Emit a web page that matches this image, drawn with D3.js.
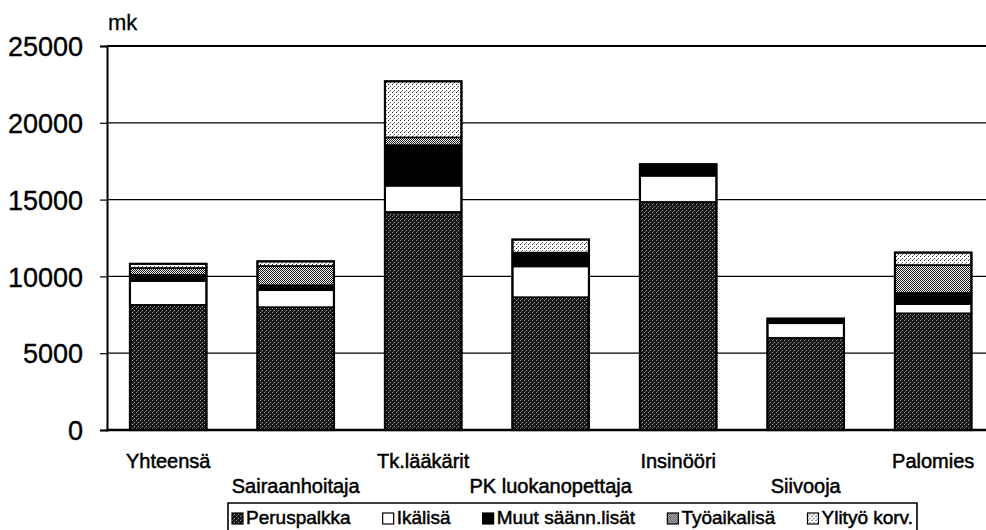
<!DOCTYPE html>
<html><head><meta charset="utf-8">
<script src="https://cdn.jsdelivr.net/npm/d3@7"></script>
<style>
html,body{margin:0;padding:0;background:#fff;}
svg{display:block;font-family:"Liberation Sans",Arial,sans-serif;}
</style></head>
<body>
<svg id="chart" width="986" height="530"></svg>
<script>
const categories = ["Yhteensä","Sairaanhoitaja","Tk.lääkärit","PK luokanopettaja","Insinööri","Siivooja","Palomies"];
const seriesNames = ["Peruspalkka","Ikälisä","Muut säänn.lisät","Työaikalisä","Ylityö korv."];
const peruspalkka = [8150, 8000, 14200, 8650, 14850, 6000, 7600];
const ikalisa     = [1550, 1100, 1700, 2000, 1700, 950, 600];
const muutLisat   = [400, 330, 2650, 800, 750, 300, 720];
const tyoaikalisa = [450, 1250, 500, 100, 0, 0, 1820];
const ylityoKorv  = [270, 300, 3650, 850, 0, 0, 810];
const yTicks = [0, 5000, 10000, 15000, 20000, 25000];
const yUnit = "mk";

const svg = d3.select("#chart");
const W = 986, H = 530;
const plotLeft = 107, plotTop = 46, plotBottom = 430;

// patterns
const defs = svg.append("defs");
function pat(id, size, bg, dots){
  const p = defs.append("pattern").attr("id", id).attr("patternUnits","userSpaceOnUse")
    .attr("width", size).attr("height", size);
  p.append("rect").attr("width", size).attr("height", size).attr("fill", bg);
  dots.forEach(([px,py,c]) => p.append("rect").attr("x",px).attr("y",py).attr("width",1).attr("height",1).attr("fill",c));
}
pat("pPerus", 4, "#161616", [[0,0,"#a0a0a0"],[2,2,"#a0a0a0"],[1,3,"#555"]]);
pat("pTyo", 2, "#ffffff", [[0,0,"#111"],[1,1,"#111"]]);
pat("pYli", 4, "#ffffff", [[0,0,"#222"],[2,2,"#555"],[1,3,"#999"]]);
const fills = ["url(#pPerus)", "#ffffff", "#000000", "url(#pTyo)", "url(#pYli)"];

const rows = categories.map((c,i) => ({
  cat: c,
  [seriesNames[0]]: peruspalkka[i],
  [seriesNames[1]]: ikalisa[i],
  [seriesNames[2]]: muutLisat[i],
  [seriesNames[3]]: tyoaikalisa[i],
  [seriesNames[4]]: ylityoKorv[i]
}));
const stacked = d3.stack().keys(seriesNames)(rows);

const y = d3.scaleLinear().domain([0, 25000]).range([plotBottom, plotTop]);
const step = 127.5;
const x = d3.scaleBand().domain(categories)
  .range([plotLeft, plotLeft + step * 6.96]).paddingInner(0.4).paddingOuter(0.18);

// gridlines
svg.append("g").selectAll("line").data(yTicks.filter(t => t > 0)).join("line")
  .attr("x1", plotLeft).attr("x2", W).attr("y1", d => y(d)).attr("y2", d => y(d))
  .attr("stroke", "#000").attr("stroke-width", d => d === 25000 ? 2 : 1.2);

// y axis
const yAxis = d3.axisLeft(y).tickValues(yTicks).tickSize(7).tickFormat(d3.format("d"));
const ga = svg.append("g").attr("transform", `translate(${plotLeft},0)`).call(yAxis);
ga.select(".domain").attr("stroke", "#000").attr("stroke-width", 2);
ga.selectAll(".tick line").attr("stroke", "#000").attr("stroke-width", 1.2);
ga.selectAll(".tick text").attr("x", -24).attr("dy", "0.36em")
  .attr("font-size", 27).attr("fill", "#000").attr("stroke", "#000").attr("stroke-width", 0.35)
  .attr("font-family", "Liberation Sans, Arial, sans-serif");

svg.append("text").attr("x", plotLeft + 1).attr("y", 30).attr("font-size", 22)
  .attr("stroke", "#000").attr("stroke-width", 0.3).text(yUnit);

// bars
const layer = svg.append("g").selectAll("g").data(stacked).join("g")
  .attr("fill", (d,i) => fills[i]);
layer.selectAll("rect").data(d => d.map((v,i) => ({v, cat: categories[i]})).filter(o => o.v[1] > o.v[0]))
  .join("rect")
  .attr("x", o => x(o.cat)).attr("width", x.bandwidth())
  .attr("y", o => y(o.v[1])).attr("height", o => y(o.v[0]) - y(o.v[1]))
  .attr("stroke", "#000").attr("stroke-width", 1.6);

// bar outlines
svg.append("g").selectAll("rect").data(categories).join("rect")
  .attr("x", c => x(c)).attr("width", x.bandwidth())
  .attr("y", (c,i) => y(stacked[stacked.length-1][i][1]))
  .attr("height", (c,i) => plotBottom - y(stacked[stacked.length-1][i][1]))
  .attr("fill", "none").attr("stroke", "#000").attr("stroke-width", 2.2);

// baseline
svg.append("line").attr("x1", plotLeft - 1).attr("x2", W).attr("y1", plotBottom).attr("y2", plotBottom)
  .attr("stroke", "#000").attr("stroke-width", 2.5);

// x labels (staggered)
svg.append("g").selectAll("text").data(categories).join("text")
  .attr("x", c => x(c) + x.bandwidth()/2)
  .attr("y", (c,i) => i % 2 === 0 ? 468 : 493)
  .attr("text-anchor", "middle").attr("font-size", 20)
  .attr("stroke", "#000").attr("stroke-width", 0.5).text(c => c);

// legend
const lg = svg.append("g");
const lgTop = 503, lgLeft = 228, lgRight = 917;
const items = lg.selectAll("g").data(seriesNames).join("g");
items.append("rect").attr("width", 11).attr("height", 11).attr("y", 513)
  .attr("fill", (d,i) => fills[i]).attr("stroke", "#000").attr("stroke-width", 1.2);
items.append("text").attr("x", 14).attr("y", 524).attr("font-size", 19)
  .attr("stroke", "#000").attr("stroke-width", 0.5).text(d => d);
const widths = [];
items.each(function(){ widths.push(this.getBBox().width); });
const totalW = d3.sum(widths);
const gap = (lgRight - lgLeft - 8 - totalW) / (seriesNames.length - 1);
let cx = lgLeft + 4;
items.attr("transform", (d,i) => { const t = `translate(${cx},0)`; cx += widths[i] + gap; return t; });
lg.insert("path", ":first-child")
  .attr("d", `M${lgLeft},${H+2}V${lgTop}H${lgRight}V${H+2}`)
  .attr("fill", "#fff").attr("stroke", "#000").attr("stroke-width", 1.6);
</script>
</body></html>
